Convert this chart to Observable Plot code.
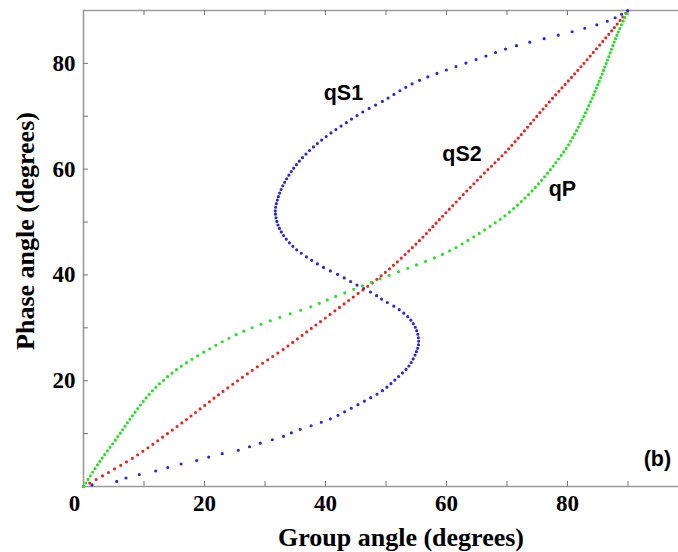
<!DOCTYPE html>
<html>
<head>
<meta charset="utf-8">
<script src="https://cdn.jsdelivr.net/npm/d3@7"></script>
<script src="https://cdn.jsdelivr.net/npm/@observablehq/plot@0.6"></script>
<style>
  html, body { margin: 0; padding: 0; background: #fff; }
  #chart { width: 678px; height: 552px; }
</style>
</head>
<body>
<div id="chart"></div>
<script>
// Group angle (x, degrees) and phase angle (y, degrees)
const qS1Group = [1.4, 5.0, 7.8, 11.5, 15.2, 18.7, 22.1, 25.4, 29.8, 32.6, 35.3, 38.7, 41.4, 44.1, 47.0, 49.4, 51.8, 53.8, 55.1, 55.4, 55.1, 54.0, 52.1, 49.6, 48.0, 45.5, 42.5, 39.7, 37.0, 34.8, 33.1, 32.1, 31.7, 32.0, 32.8, 34.2, 35.9, 38.1, 40.5, 43.3, 46.3, 49.4, 54.6, 60.1, 65.6, 71.1, 76.6, 82.1, 87.1, 90];
const qS1Phase = [0.3, 0.8, 1.9, 2.8, 4.0, 4.9, 6.0, 6.8, 8.4, 9.3, 10.6, 11.9, 13.1, 14.7, 16.5, 18.1, 20.5, 22.8, 25.7, 27.2, 29.4, 31.6, 33.5, 35.2, 36.4, 37.9, 39.8, 41.4, 43.3, 45.2, 47.4, 49.6, 52.1, 54.0, 56.5, 59.3, 61.8, 64.3, 66.5, 68.7, 70.9, 72.8, 76.3, 78.8, 81.0, 83.2, 84.8, 86.4, 88.2, 90];

const qS2Group = [0, 8.3, 16.0, 23.2, 28.7, 33.1, 38.6, 44.1, 49.6, 55.1, 60.1, 65.6, 70.0, 76.6, 82.1, 87.7, 90];
const qS2Phase = [0, 5.5, 11.8, 18.1, 22.6, 26.0, 30.7, 35.4, 40.2, 46.0, 52.0, 58.5, 63.5, 72.2, 79.2, 86.7, 90];

const qPGroup = [0, 2.8, 5.6, 8.3, 11.4, 15.5, 19.9, 25.4, 31.5, 38.1, 39.7, 46.9, 49.1, 54.6, 60.1, 65.6, 70.0, 73.3, 76.1, 78.3, 80.0, 82.0, 84.0, 86.0, 88.2, 90];
const qPPhase = [0, 4.9, 9.3, 13.7, 18.1, 22.2, 25.4, 28.8, 31.6, 34.2, 35.0, 38.3, 39.3, 41.7, 44.3, 48.0, 51.5, 54.9, 58.4, 61.6, 64.3, 68.4, 73.2, 78.8, 85.4, 90];

const xTickLabels = [20, 40, 60, 80];
const xOriginLabel = [0];
const yTickLabels = [20, 40, 60, 80];
const xTicks = [10, 20, 30, 40, 50, 60, 70, 80, 90];
const yTicks = [10, 20, 30, 40, 50, 60, 70, 80];

const seriesNames = ["qS1", "qS2", "qP"];
const labelGroup = [39.7, 59.3, 76.9];
const labelPhase = [73.0, 61.5, 54.9];
const panelLabel = ["(b)"];
const panelGroup = [92.6];
const panelPhase = [3.8];

const xTitle = "Group angle (degrees)";
const yTitle = "Phase angle (degrees)";

const toRows = (xs, ys) => xs.map((x, i) => ({x, y: ys[i]}));
const qS1 = toRows(qS1Group, qS1Phase);
const qS2 = toRows(qS2Group, qS2Phase);
const qP = toRows(qPGroup, qPPhase);
const labels = seriesNames.map((t, i) => ({t, x: labelGroup[i], y: labelPhase[i]}));
const panel = panelLabel.map((t, i) => ({t, x: panelGroup[i], y: panelPhase[i]}));

const W = 678, H = 552;
const mL = 83, mR = 0, mT = 10, mB = 66;
const plotW = W - mL - mR, plotH = H - mT - mB;
const axisGray = "#9a9a9a";
const serif = "'Liberation Serif', 'Times New Roman', serif";
const sans = "'Liberation Sans', Arial, sans-serif";

const lineOpts = {x: "x", y: "y", strokeWidth: 3.2, strokeLinecap: "round", curve: "catmull-rom"};

const chart = Plot.plot({
  width: W,
  height: H,
  marginLeft: mL,
  marginRight: mR,
  marginTop: mT,
  marginBottom: mB,
  x: {domain: [0, 98.35]},
  y: {domain: [0, 90]},
  style: {background: "#fff", color: "#000"},
  marks: [
    Plot.ruleY([0, 90], {stroke: axisGray, strokeWidth: 1.6}),
    Plot.ruleX([0], {stroke: axisGray, strokeWidth: 1.6}),
    Plot.tickX(xTicks, {x: d => d, stroke: "#777", strokeWidth: 1, insetTop: plotH - 5}),
    Plot.tickX(xTicks, {x: d => d, stroke: "#777", strokeWidth: 1, insetBottom: plotH - 5}),
    Plot.tickY(yTicks, {y: d => d, stroke: "#777", strokeWidth: 1, insetRight: plotW - 5}),
    Plot.axisX(xTickLabels, {tickSize: 0, tickPadding: 8, fontSize: 23, fontWeight: "bold", fontFamily: serif, label: null}),
    Plot.axisX(xOriginLabel, {tickSize: 0, tickPadding: 8, dx: -9, fontSize: 23, fontWeight: "bold", fontFamily: serif, label: null}),
    Plot.axisY(yTickLabels, {tickSize: 0, tickPadding: 8, fontSize: 23, fontWeight: "bold", fontFamily: serif, label: null}),
    Plot.line(qS1, {...lineOpts, stroke: "#2a2ad2"}),
    Plot.line(qS2, {...lineOpts, stroke: "#e02a2a"}),
    Plot.line(qP, {...lineOpts, stroke: "#2edc2e"}),
    Plot.text(labels, {x: "x", y: "y", text: "t", textAnchor: "start", lineAnchor: "bottom", fontSize: 21.5, fontWeight: "bold", fontFamily: sans, fill: "#000"}),
    Plot.text(panel, {x: "x", y: "y", text: "t", textAnchor: "start", lineAnchor: "bottom", fontSize: 21.5, fontWeight: "bold", fontFamily: sans, fill: "#000"}),
    Plot.text([xTitle], {text: d => d, frameAnchor: "bottom", textAnchor: "middle", dx: 20, dy: 59, lineAnchor: "bottom", fontSize: 26, fontWeight: "bold", fontFamily: serif, fill: "#000"}),
    Plot.text([yTitle], {text: d => d, frameAnchor: "left", textAnchor: "middle", rotate: -90, dx: -50, dy: -17.5, lineAnchor: "bottom", fontSize: 26, fontWeight: "bold", fontFamily: serif, fill: "#000"})
  ]
});

document.getElementById("chart").appendChild(chart);

// Render the lines as dotted strokes: one dot every fixed step in phase angle (pure styling of the drawn path)
const stepPx = 0.65 * plotH / 90;
chart.querySelectorAll('g[aria-label="line"] path').forEach(path => {
  const L = path.getTotalLength();
  let lastY = path.getPointAtLength(0).y;
  let lastLen = 0;
  const arr = [0];
  for (let s = 0.25; s <= L; s += 0.25) {
    const p = path.getPointAtLength(s);
    if (Math.abs(p.y - lastY) >= stepPx) {
      arr.push((s - lastLen).toFixed(2), 0);
      lastLen = s;
      lastY = p.y;
    }
  }
  arr.push((L + 20).toFixed(2));
  path.setAttribute("stroke-dasharray", arr.join(" "));
});
</script>
</body>
</html>
